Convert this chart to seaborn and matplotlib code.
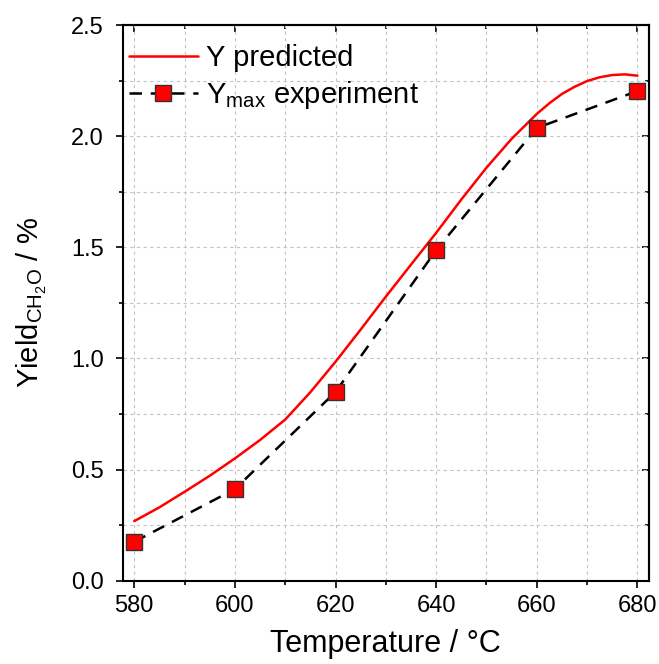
import numpy as np
import pandas as pd
import seaborn as sns
import matplotlib.pyplot as plt
from matplotlib.ticker import MultipleLocator, NullFormatter

# predicted yield curve
t_pred = [580, 585, 590, 595, 600, 605, 610, 615, 620, 625, 630,
          635, 640, 645, 650, 655, 660, 662.5, 665, 667.5, 670,
          672.5, 675, 677.5, 680]
y_pred = [0.268, 0.33, 0.40, 0.472, 0.55, 0.633, 0.725, 0.848, 0.985, 1.13, 1.278,
          1.422, 1.565, 1.715, 1.858, 1.988, 2.10, 2.148, 2.19, 2.222, 2.248,
          2.265, 2.275, 2.278, 2.272]

# experimental max yield
t_exp = [580, 600, 620, 640, 660, 680]
y_exp = [0.175, 0.412, 0.849, 1.487, 2.037, 2.203]

sns.set_style("ticks")
plt.rcParams['font.family'] = ['Liberation Sans', 'DejaVu Sans']
plt.rcParams['mathtext.fontset'] = 'custom'
plt.rcParams['mathtext.rm'] = 'Liberation Sans'
plt.rcParams['mathtext.it'] = 'Liberation Sans'
plt.rcParams['text.color'] = 'black'
plt.rcParams['axes.labelcolor'] = 'black'
plt.rcParams['xtick.color'] = 'black'
plt.rcParams['ytick.color'] = 'black'

fig = plt.figure(figsize=(6.59, 6.64), dpi=100)
ax = fig.add_axes([0.1862, 0.1255, 0.7986, 0.8368])

sns.lineplot(x=t_pred, y=y_pred, ax=ax, color='#ff0000', lw=1.8,
             label='Y predicted')
sns.lineplot(x=t_exp, y=y_exp, ax=ax, color='black', lw=1.8,
             dashes=False, label=r'Y$_{\mathregular{max}}$ experiment',
             marker='s', markersize=11, markerfacecolor='#ff0000',
             markeredgecolor='#333333', markeredgewidth=1.0)
ax.lines[0].set_solid_joinstyle('round')
ax.lines[1].set_dashes((5, 3.5))

ax.set_xlim(577.7, 682.3)
ax.set_ylim(0, 2.5)
ax.xaxis.set_major_locator(MultipleLocator(20))
ax.xaxis.set_minor_locator(MultipleLocator(10))
ax.yaxis.set_major_locator(MultipleLocator(0.5))
ax.yaxis.set_minor_locator(MultipleLocator(0.25))
ax.yaxis.set_major_formatter(plt.FormatStrFormatter('%.1f'))

ax.grid(True, which='both', color='#c4c4c4', ls=(0, (3, 3)), lw=0.8)
ax.set_axisbelow(True)
# left/bottom ticks point outward
ax.tick_params(which='both', direction='out', width=1.2, color='black')
ax.tick_params(which='major', length=5, labelsize=17)
ax.tick_params(which='minor', length=3)
ax.tick_params(axis='x', which='major', pad=5)
ax.tick_params(axis='y', which='major', pad=8.5)
for s in ax.spines.values():
    s.set_linewidth(1.5)
    s.set_color('black')

# mirrored top/right ticks point inward
top = ax.secondary_xaxis('top')
right = ax.secondary_yaxis('right')
for sec, loc_maj, loc_min in [(top, 20, 10), (right, 0.5, 0.25)]:
    axis = sec.xaxis if sec is top else sec.yaxis
    axis.set_major_locator(MultipleLocator(loc_maj))
    axis.set_minor_locator(MultipleLocator(loc_min))
    axis.set_major_formatter(NullFormatter())
    sec.tick_params(which='both', direction='in', width=1.2, color='black')
    sec.tick_params(which='major', length=5)
    sec.tick_params(which='minor', length=3)
    for s in sec.spines.values():
        s.set_linewidth(1.5)

ax.set_xlabel('Temperature / °C', fontsize=22, labelpad=9)
ax.set_ylabel(r'Yield$_{\mathregular{CH_2O}}$ / %', fontsize=21, labelpad=16)

leg = ax.legend(loc='upper left', bbox_to_anchor=(-0.01, 0.987),
                frameon=False, fontsize=21,
                handlelength=2.35, handletextpad=0.3, labelspacing=0.25,
                borderaxespad=0.1, borderpad=0.3)

fig.savefig('out.png', dpi=100)
